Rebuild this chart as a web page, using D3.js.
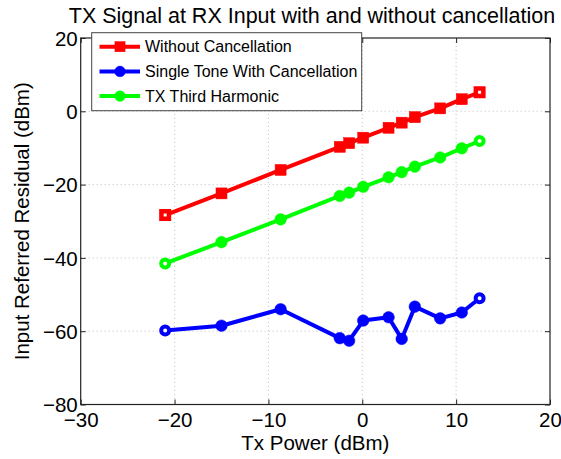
<!DOCTYPE html>
<html><head><meta charset="utf-8">
<script src="https://cdn.jsdelivr.net/npm/d3@7"></script>
<style>
body{margin:0;background:#fff;}
text{font-family:"Liberation Sans",Arial,Helvetica,sans-serif;fill:#000;}
</style></head>
<body><svg id="c" width="561" height="459"></svg>
<script>
const txPower = [-21.0, -15.0, -8.7, -2.4, -1.4, 0.1, 2.8, 4.2, 5.6, 8.3, 10.6, 12.5];
const withoutCancellation = [-28.3, -22.4, -16.0, -9.7, -8.7, -7.2, -4.5, -3.1, -1.6, 0.8, 3.3, 5.2];
const singleToneWithCancellation = [-59.8, -58.5, -54.0, -61.9, -62.6, -57.1, -56.2, -62.1, -53.3, -56.5, -54.9, -51.0];
const txThirdHarmonic = [-41.5, -35.7, -29.5, -23.1, -22.2, -20.6, -18.0, -16.6, -15.1, -12.6, -10.1, -8.1];
const xTicks = [-30, -20, -10, 0, 10, 20];
const yTicks = [-80, -60, -40, -20, 0, 20];
const seriesNames = ["Without Cancellation", "Single Tone With Cancellation", "TX Third Harmonic"];
const seriesColors = ["#ff0000", "#0000ff", "#00ff00"];
const seriesMarkers = ["square", "circle", "circle"];
const titleText = "TX Signal at RX Input with and without cancellation";
const xLabel = "Tx Power (dBm)";
const yLabel = "Input Referred Residual (dBm)";

const svg = d3.select("#c");
const L = 80.7, R = 550, T = 38, B = 404.5;
const x = d3.scaleLinear().domain([-30, 20]).range([L, R]);
const y = d3.scaleLinear().domain([-80, 20]).range([B, T]);

// grid
const grid = svg.append("g").attr("stroke", "#b0b0b0").attr("stroke-width", 0.8).attr("stroke-dasharray", "1,3");
xTicks.slice(1, -1).forEach(t => grid.append("line").attr("x1", x(t)).attr("x2", x(t)).attr("y1", T).attr("y2", B));
yTicks.slice(1, -1).forEach(t => grid.append("line").attr("x1", L).attr("x2", R).attr("y1", y(t)).attr("y2", y(t)));

const fs = 20.5;
const fmt = d => d3.format("")(d).replace("-", "\u2212");
const ax = svg.append("g").attr("transform", `translate(0,${B})`)
  .call(d3.axisBottom(x).tickValues(xTicks).tickSizeInner(-5).tickSizeOuter(0).tickFormat(fmt));
const ay = svg.append("g").attr("transform", `translate(${L},0)`)
  .call(d3.axisLeft(y).tickValues(yTicks).tickSizeInner(-5).tickSizeOuter(0).tickPadding(3).tickFormat(fmt));
const axT = svg.append("g").attr("transform", `translate(0,${T})`)
  .call(d3.axisTop(x).tickValues(xTicks).tickSizeInner(-5).tickSizeOuter(0).tickFormat(""));
const ayR = svg.append("g").attr("transform", `translate(${R},0)`)
  .call(d3.axisRight(y).tickValues(yTicks).tickSizeInner(-5).tickSizeOuter(0).tickFormat(""));
[ax, ay, axT, ayR].forEach(g => {
  g.select(".domain").remove();
  g.selectAll("line").attr("stroke", "#222").attr("stroke-width", 1);
  g.selectAll("text").style("font-size", fs + "px").style("font-family", '"Liberation Sans",Arial,sans-serif').attr("fill", "#000");
});
ax.selectAll("text").attr("y", 22).attr("dy", 0);
ay.selectAll("text").attr("dy", "0.36em");
svg.append("rect").attr("x", L).attr("y", T).attr("width", R - L).attr("height", B - T)
  .attr("fill", "none").attr("stroke", "#222").attr("stroke-width", 1.2);

// series
const datasets = [withoutCancellation, singleToneWithCancellation, txThirdHarmonic];
const line = d3.line().x(d => x(d[0])).y(d => y(d[1]));
function marker(g, type, cx, cy, color, hollow, scale) {
  const k = scale || 1;
  if (type === "square") {
    const s = hollow ? 7.5 : 11 * k;
    g.append("rect").attr("x", cx - s / 2).attr("y", cy - s / 2).attr("width", s).attr("height", s)
      .attr("fill", hollow ? "#fff" : color).attr("stroke", color).attr("stroke-width", hollow ? 4.5 : 0.5);
  } else {
    g.append("circle").attr("cx", cx).attr("cy", cy).attr("r", hollow ? 4 : 5.8 * k)
      .attr("fill", hollow ? "#fff" : color).attr("stroke", color).attr("stroke-width", hollow ? 4 : 0.5);
  }
}
datasets.forEach((vals, i) => {
  const pts = txPower.map((v, j) => [v, vals[j]]);
  const g = svg.append("g");
  g.append("path").attr("d", line(pts)).attr("fill", "none").attr("stroke", seriesColors[i]).attr("stroke-width", 4).attr("stroke-linejoin", "round");
  pts.forEach((p, j) => marker(g, seriesMarkers[i], x(p[0]), y(p[1]), seriesColors[i], j === 0 || j === pts.length - 1));
});

// legend
const lg = svg.append("g");
lg.append("rect").attr("x", 91.7).attr("y", 32.7).attr("width", 270).attr("height", 78)
  .attr("fill", "#fff").attr("stroke", "#444").attr("stroke-width", 1);
seriesNames.forEach((n, i) => {
  const yy = 46.7 + i * 24.7;
  lg.append("line").attr("x1", 99.5).attr("x2", 140).attr("y1", yy).attr("y2", yy).attr("stroke", seriesColors[i]).attr("stroke-width", 4);
  marker(lg, seriesMarkers[i], 120, yy, seriesColors[i], false, 0.92);
  lg.append("text").attr("x", 145).attr("y", yy).attr("dy", "0.36em").style("font-size", "16px").text(n);
});

// titles
svg.append("text").attr("x", 312).attr("y", 23).attr("text-anchor", "middle").style("font-size", "21.5px").text(titleText);
svg.append("text").attr("x", (L + R) / 2).attr("y", 450).attr("text-anchor", "middle").style("font-size", fs + "px").text(xLabel);
svg.append("text").attr("transform", `translate(29,${(T + B) / 2}) rotate(-90)`).attr("text-anchor", "middle").style("font-size", fs + "px").text(yLabel);
</script></body></html>
